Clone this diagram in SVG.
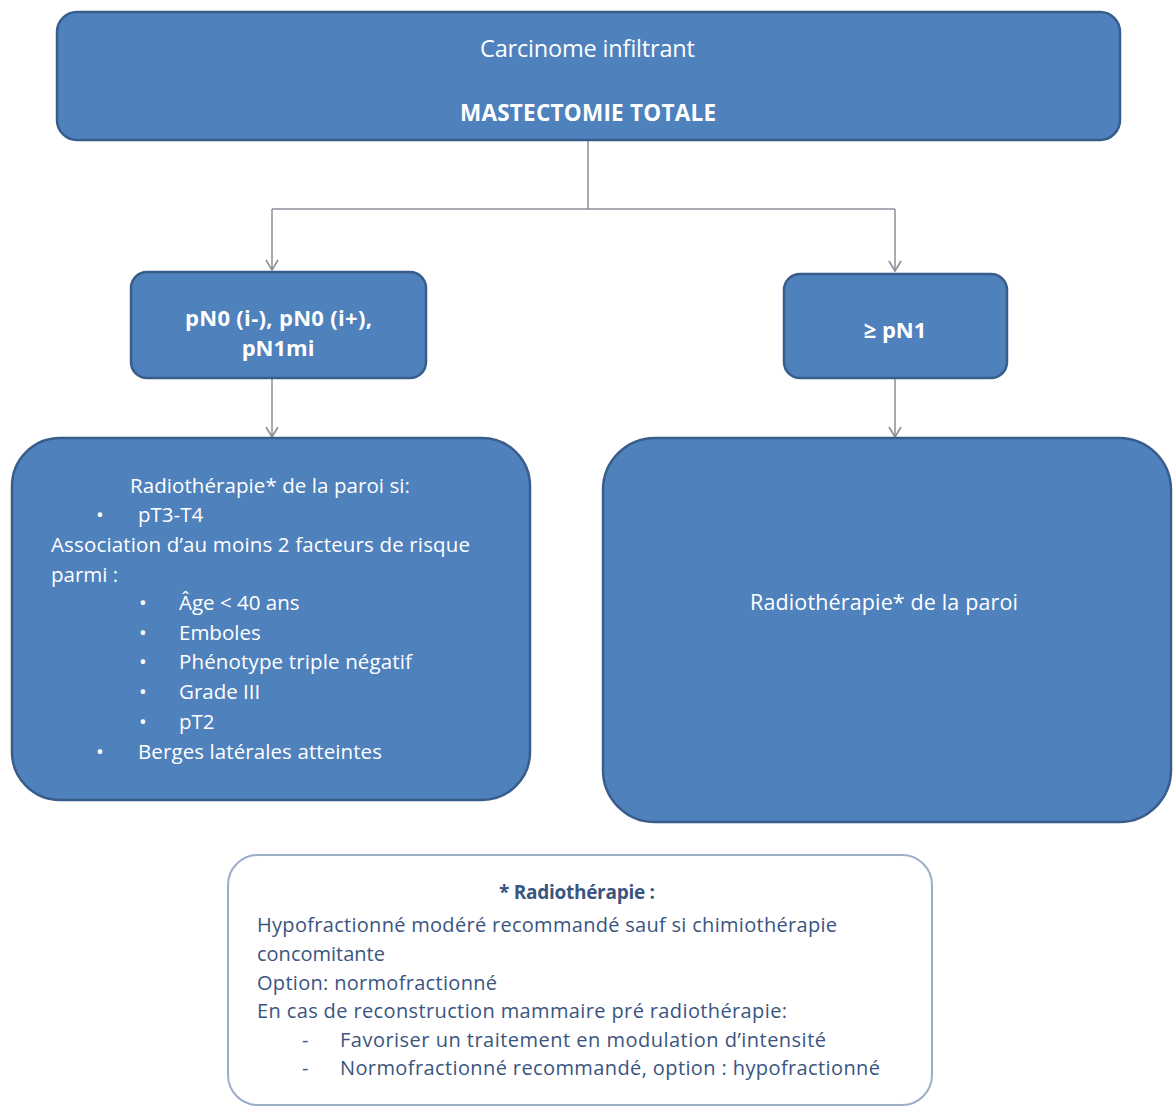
<svg xmlns="http://www.w3.org/2000/svg" width="1174" height="1108" viewBox="0 0 1174 1108">
<defs>
<style>
.box{fill:#4f81bd;stroke:#385d8a;stroke-width:2.5}
.note{fill:#ffffff;stroke:#9aaec8;stroke-width:2}
.t{font-family:"Open Sans","Liberation Sans",sans-serif;fill:#ffffff;font-size:20.5px}
.b{font-weight:bold}
.n{font-family:"Open Sans","Liberation Sans",sans-serif;fill:#3a5580;font-size:20px}
.c{text-anchor:middle}
.conn{fill:none;stroke:#8a8f98;stroke-width:1.5}
</style>
<marker id="arr" viewBox="0 0 14 14" refX="13" refY="7" markerWidth="14" markerHeight="14" markerUnits="userSpaceOnUse" orient="auto">
<path d="M3,1 L13,7 L3,13" fill="none" stroke="#8a8f98" stroke-width="1.6"/>
</marker>
</defs>
<rect width="1174" height="1108" fill="#ffffff"/>
<g id="connectors">
<path class="conn" d="M588,141 V209"/>
<path class="conn" d="M272,209 H895"/>
<path class="conn" d="M272,209 V270" marker-end="url(#arr)"/>
<path class="conn" d="M895,209 V271" marker-end="url(#arr)"/>
<path class="conn" d="M272,379 V437" marker-end="url(#arr)"/>
<path class="conn" d="M895,379 V437" marker-end="url(#arr)"/>
</g>
<g id="top">
<rect class="box" x="57" y="12" width="1063" height="128" rx="20"/>
<text class="t" x="480" y="57" style="font-size:23.5px" textLength="215" lengthAdjust="spacing">Carcinome infiltrant</text>
<text class="t b" x="460" y="121" style="font-size:22.5px" textLength="256" lengthAdjust="spacing">MASTECTOMIE TOTALE</text>
</g>
<g id="pn0">
<rect class="box" x="131" y="272" width="295" height="106" rx="16"/>
<text class="t b" x="185" y="326" style="font-size:22px" textLength="187" lengthAdjust="spacing">pN0 (i-), pN0 (i+),</text>
<text class="t b c" x="278" y="356" style="font-size:22px">pN1mi</text>
</g>
<g id="pn1">
<rect class="box" x="784" y="274" width="223" height="104" rx="16"/>
<text class="t b c" x="895" y="338" style="font-size:22px">≥ pN1</text>
</g>
<g id="left">
<rect class="box" x="12" y="438" width="518" height="362" rx="48"/>
<text class="t" x="130" y="493" textLength="280" lengthAdjust="spacing">Radiothérapie* de la paroi si:</text>
<text class="t" x="96" y="522">•</text>
<text class="t" x="138" y="522">pT3-T4</text>
<text class="t" x="51" y="552" textLength="419" lengthAdjust="spacing">Association d’au moins 2 facteurs de risque</text>
<text class="t" x="51" y="582">parmi :</text>
<text class="t" x="139" y="610">•</text>
<text class="t" x="179" y="610">Âge &lt; 40 ans</text>
<text class="t" x="139" y="640">•</text>
<text class="t" x="179" y="640">Emboles</text>
<text class="t" x="139" y="669">•</text>
<text class="t" x="179" y="669" textLength="233" lengthAdjust="spacing">Phénotype triple négatif</text>
<text class="t" x="139" y="699">•</text>
<text class="t" x="179" y="699">Grade III</text>
<text class="t" x="139" y="729">•</text>
<text class="t" x="179" y="729">pT2</text>
<text class="t" x="96" y="759">•</text>
<text class="t" x="138" y="759" textLength="244" lengthAdjust="spacing">Berges latérales atteintes</text>
</g>
<g id="right">
<rect class="box" x="603" y="438" width="568" height="384" rx="52"/>
<text class="t" x="750" y="610" style="font-size:21.5px" textLength="268" lengthAdjust="spacing">Radiothérapie* de la paroi</text>
</g>
<g id="note">
<rect class="note" x="228" y="855" width="704" height="250" rx="30"/>
<text class="n b" x="499" y="899" style="font-size:19px" textLength="156" lengthAdjust="spacing">* Radiothérapie :</text>
<text class="n" x="257" y="932" textLength="580" lengthAdjust="spacing">Hypofractionné modéré recommandé sauf si chimiothérapie</text>
<text class="n" x="257" y="961">concomitante</text>
<text class="n" x="257" y="990" textLength="240" lengthAdjust="spacing">Option: normofractionné</text>
<text class="n" x="257" y="1018" textLength="530" lengthAdjust="spacing">En cas de reconstruction mammaire pré radiothérapie:</text>
<text class="n" x="302" y="1047">-</text>
<text class="n" x="340" y="1047" textLength="486" lengthAdjust="spacing">Favoriser un traitement en modulation d’intensité</text>
<text class="n" x="302" y="1075">-</text>
<text class="n" x="340" y="1075" textLength="540" lengthAdjust="spacing">Normofractionné recommandé, option : hypofractionné</text>
</g>
</svg>
